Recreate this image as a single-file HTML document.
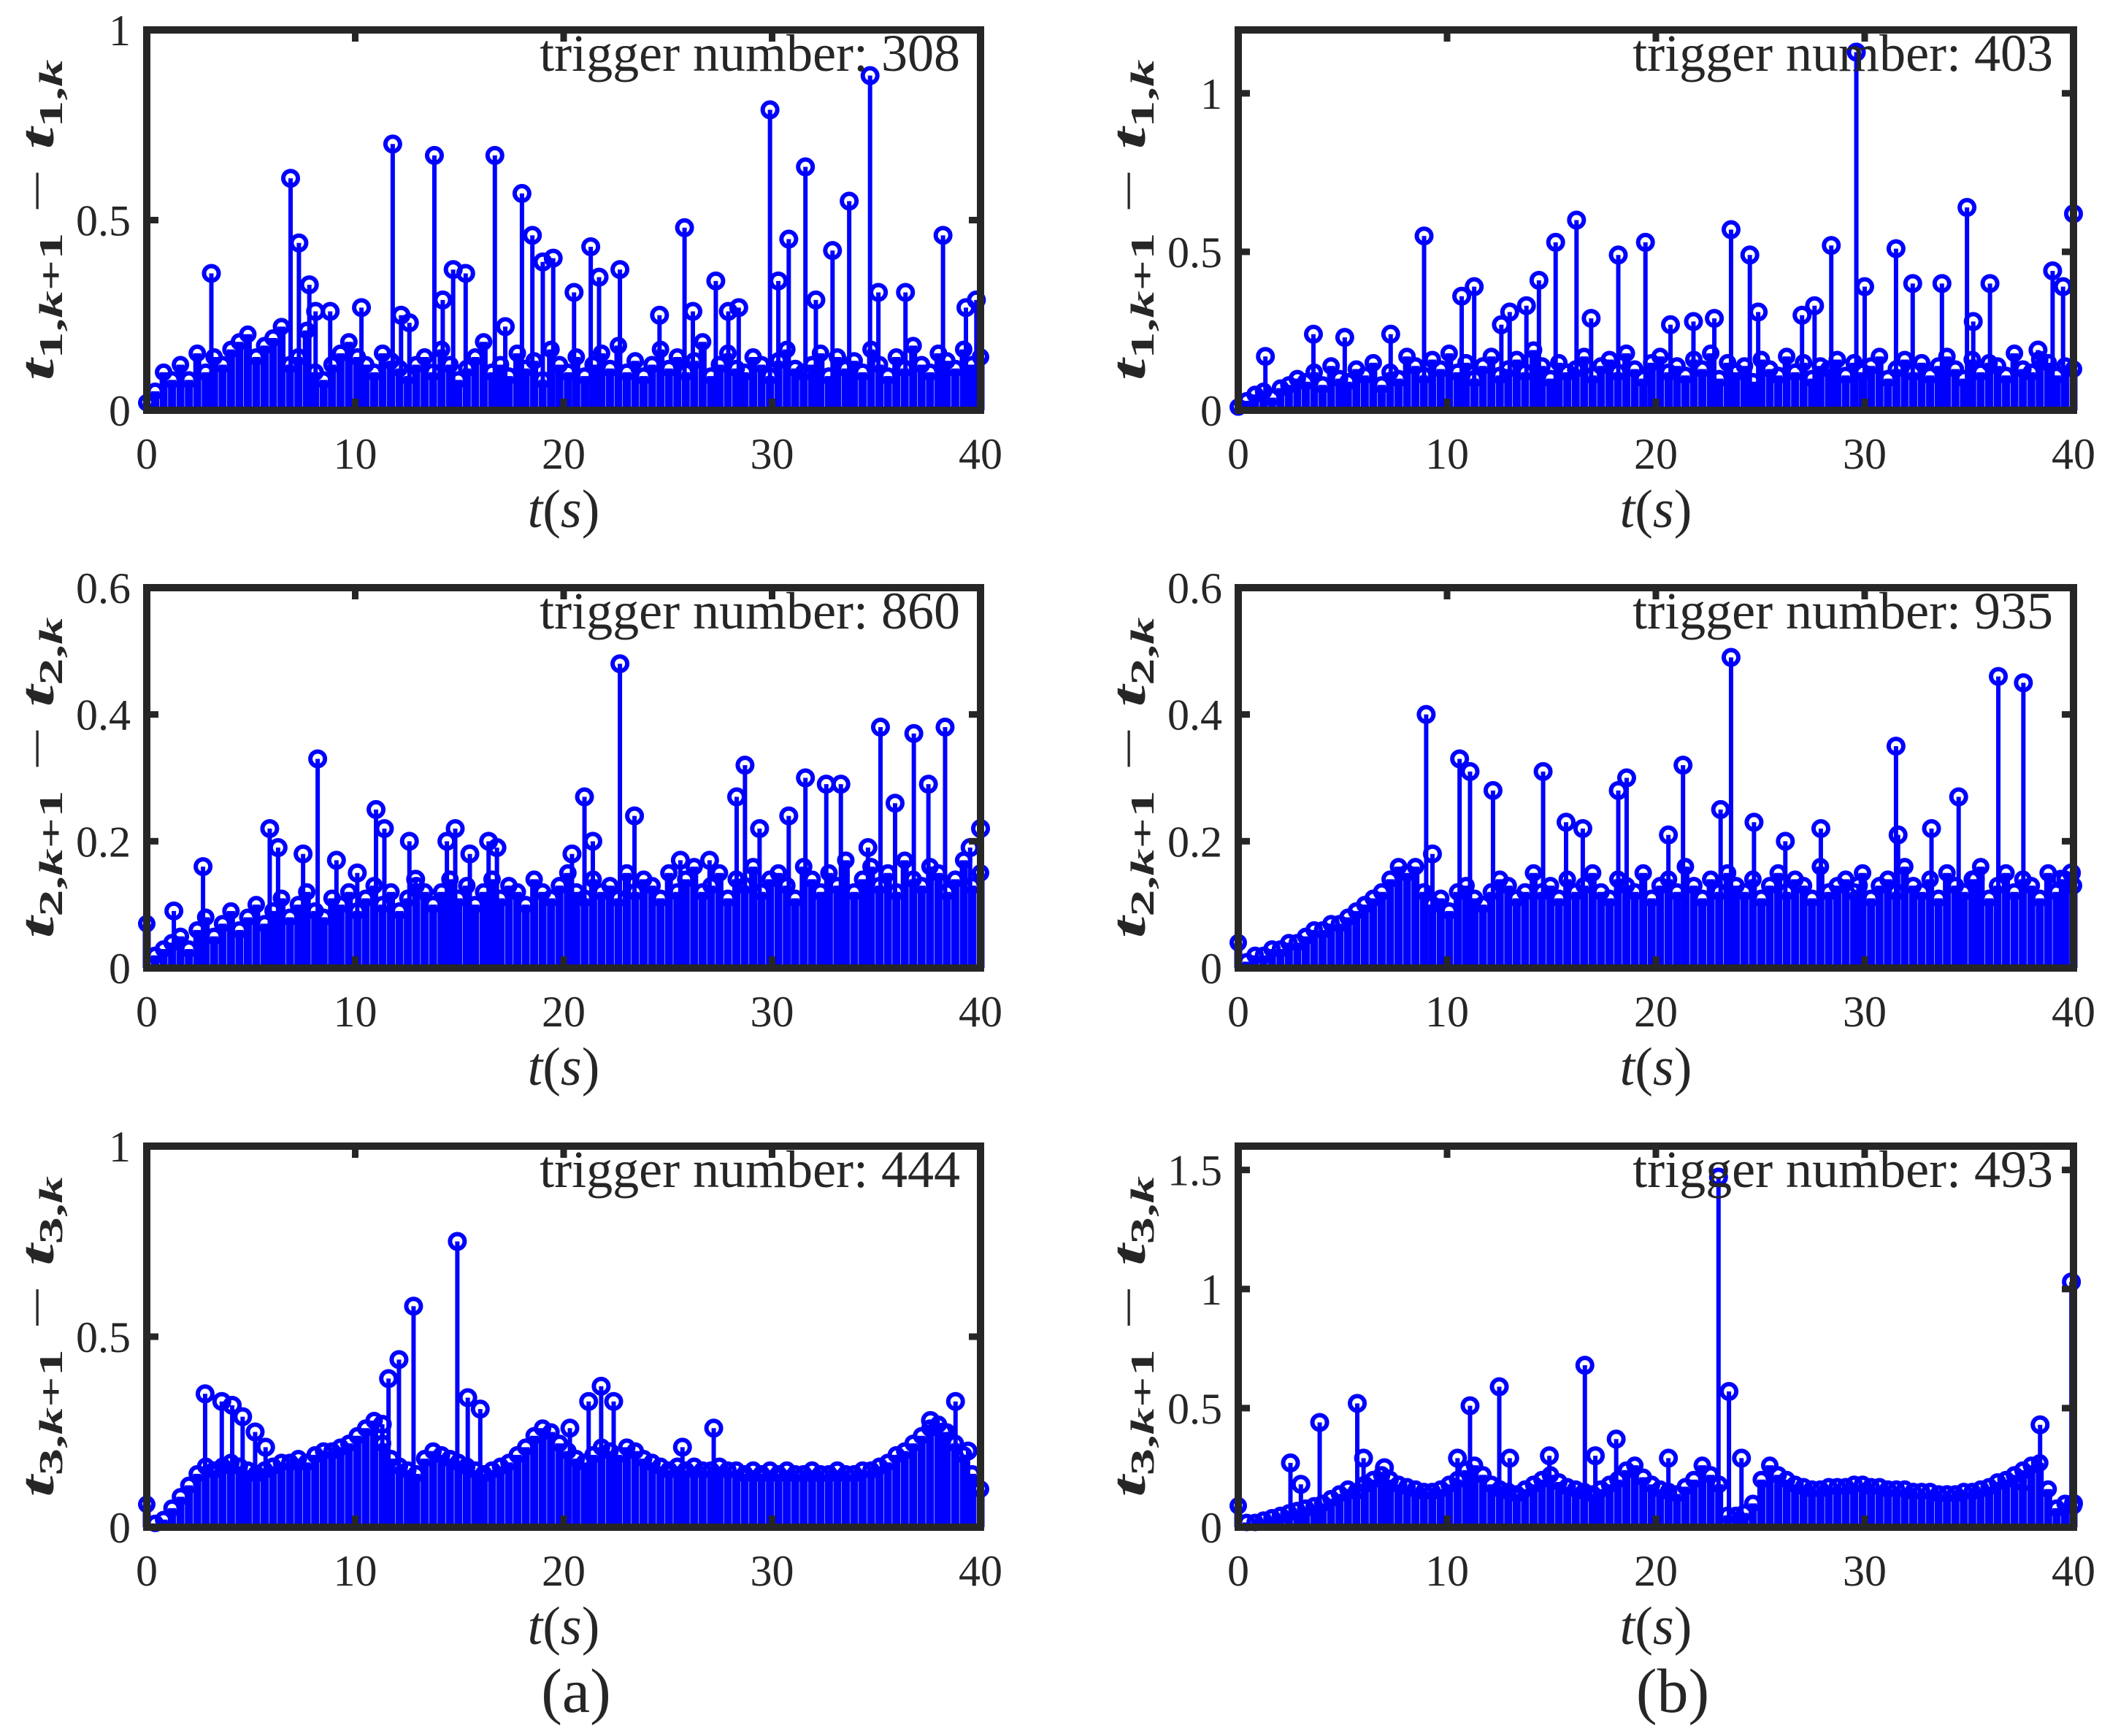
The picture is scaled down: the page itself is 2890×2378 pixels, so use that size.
<!DOCTYPE html>
<html><head><meta charset="utf-8"><style>
html,body{margin:0;padding:0;background:#fff}
svg{display:block}
text{font-family:"Liberation Serif",serif;fill:#262626}
</style></head><body>
<svg id="fig" width="2890" height="2378" viewBox="0 0 2890 2378" xmlns="http://www.w3.org/2000/svg">
<text x="789" y="2345" font-size="86" text-anchor="middle" fill="#000">(a)</text>
<text x="2291" y="2345" font-size="86" text-anchor="middle" fill="#000">(b)</text>
</svg>
<script>
// ---- data (t in seconds, value = inter-event time) ----
const a1PeakT=[3.1,6.9,7.3,7.8,8.1,8.8,10.3,11.8,12.2,12.6,13.8,14.2,14.7,15.3,16.7,17.2,18.0,18.5,19.0,19.5,20.5,21.3,21.7,22.7,24.6,25.8,26.2,27.3,27.9,28.4,29.9,30.3,30.8,31.6,32.1,32.9,33.7,34.7,35.1,36.4,38.2,39.3,39.8];
const a1PeakV=[.36,.61,.44,.33,.26,.26,.27,.70,.25,.23,.67,.29,.37,.36,.67,.22,.57,.46,.39,.40,.31,.43,.35,.37,.25,.48,.26,.34,.26,.27,.79,.34,.45,.64,.29,.42,.55,.88,.31,.31,.46,.27,.29];
const a1Base="02 05 10 08 12 08 15 10 14 12 16 18 20 14 17 19 22 12 14 21 10 08 12 15 18 14 12 10 15 13 11 09 12 14 10 16 12 08 11 14 18 10 12 09 15 11 13 08 16 12 10 14 09 12 15 11 17 10 13 09 12 16 11 14 10 13 18 09 12 15 11 10 14 12 09 13 16 11 10 12 15 09 14 11 13 10 16 12 09 14 11 17 12 10 15 13 11 16 12 14";

const b1PeakT=[1.3,3.6,5.1,7.3,8.9,10.7,11.3,12.6,13.0,13.8,14.4,15.2,16.2,16.9,18.2,19.5,20.7,21.8,22.8,23.6,24.5,24.9,27.0,27.6,28.4,29.6,30.0,31.5,32.3,33.7,34.9,35.2,36.0,38.3,39.0,39.5,40.0];
const b1PeakV=[.17,.24,.23,.24,.55,.36,.39,.27,.31,.33,.41,.53,.60,.29,.49,.53,.27,.28,.29,.57,.49,.31,.30,.33,.52,1.13,.39,.51,.40,.40,.64,.28,.40,.19,.44,.39,.62];
const b1Base="01 03 05 06 04 07 08 10 09 12 08 14 10 09 13 11 15 08 12 10 17 14 11 16 13 18 12 15 10 14 17 11 13 16 12 19 14 10 15 12 13 17 11 14 16 12 18 13 10 15 17 12 14 11 16 13 18 10 15 12 14 09 16 13 11 17 12 15 10 14 13 16 11 15 12 14 17 10 13 16 12 15 11 14 17 13 10 16 12 15 14 11 18 13 12 16 15 11 14 13";

const a2PeakT=[1.3,2.7,5.9,6.3,7.5,8.2,9.1,10.1,11.0,11.4,12.6,12.9,14.4,14.8,15.5,16.4,16.8,20.4,21.0,21.4,22.7,23.4,25.6,27.0,28.3,28.7,29.4,30.8,31.6,32.6,33.3,34.6,35.2,35.9,36.8,37.5,38.3,39.5,40.0];
const a2PeakV=[.09,.16,.22,.19,.18,.33,.17,.15,.25,.22,.20,.14,.20,.22,.18,.20,.19,.18,.27,.20,.48,.24,.17,.17,.27,.32,.22,.24,.30,.29,.29,.19,.38,.26,.37,.29,.38,.19,.22];
const a2Base="07 02 03 04 05 03 06 08 05 07 09 06 08 10 07 09 11 08 10 12 09 08 11 10 12 09 11 13 10 12 09 11 13 12 10 12 14 11 13 10 12 14 11 13 12 10 14 12 11 13 15 12 11 14 12 13 11 15 12 14 13 11 15 12 14 16 12 13 15 11 14 13 16 12 14 15 13 11 16 14 12 15 13 17 12 14 16 13 15 12 17 14 13 16 15 12 14 17 13 15";

const b2PeakT=[9.0,9.3,10.6,11.1,12.2,14.6,15.7,16.5,18.2,18.6,20.6,21.3,23.1,23.6,24.7,26.2,27.9,29.7,31.5,31.6,33.2,34.5,35.3,36.4,37.6,39.4,39.9];
const b2PeakV=[.40,.18,.33,.31,.28,.31,.23,.22,.28,.30,.21,.32,.25,.49,.23,.20,.22,.13,.35,.21,.22,.27,.14,.46,.45,.14,.15];
const b2Base="04 01 02 02 03 03 04 04 05 06 06 07 07 08 09 10 11 12 14 16 15 16 12 10 11 09 12 13 11 10 12 14 13 11 12 15 12 13 11 14 12 13 15 12 11 14 13 12 15 11 13 14 12 16 13 11 14 12 15 13 12 14 11 13 15 12 14 13 11 16 12 13 14 12 15 11 13 14 12 16 13 12 14 11 15 13 12 14 16 11 13 15 12 14 13 11 15 12 14 13";

const a3PeakT=[2.8,3.6,4.1,4.6,5.2,5.7,11.3,11.6,12.1,12.8,14.9,15.4,16.0,20.3,21.2,21.8,22.4,25.7,27.2,37.6,38.2,38.8,39.4];
const a3PeakV=[.35,.33,.32,.29,.25,.21,.27,.39,.44,.58,.75,.34,.31,.26,.33,.37,.33,.21,.26,.28,.25,.33,.20];
const a3Base="06 01 02 05 08 11 14 16 15 16 17 16 15 14 15 16 17 17 18 17 19 20 20 21 22 24 26 28 22 18 16 15 14 18 20 19 18 17 16 15 14 15 16 17 19 21 24 26 25 22 20 18 17 19 21 20 19 21 20 18 17 16 15 16 15 16 15 15 16 15 15 14 15 14 15 14 15 14 14 15 14 14 15 14 14 15 15 16 17 19 20 22 24 26 27 25 22 19 14 10";

const b3PeakT=[2.5,3.0,3.9,5.7,6.0,7.0,10.5,11.1,12.5,13.0,14.9,16.6,17.1,18.1,20.6,23.0,23.5,24.1,37.6,38.4,39.9,40.0];
const b3PeakV=[.27,.18,.44,.52,.29,.25,.29,.51,.59,.29,.30,.68,.30,.37,.29,1.47,.57,.29,.19,.43,1.03,.10];
const b3Base="09 02 02 03 04 05 06 07 08 09 10 12 14 16 15 18 20 22 20 18 17 16 15 15 16 18 20 24 26 22 18 16 15 14 16 18 20 22 19 17 16 15 14 16 18 20 24 26 21 18 16 15 14 17 20 26 22 18 05 05 06 10 20 26 22 20 18 17 16 16 17 17 17 18 18 17 17 16 16 16 15 15 15 14 14 14 15 15 16 17 19 20 22 24 26 27 16 08 10 09";

const xTicks=[0,10,20,30,40];
const xTickLabels=["0","10","20","30","40"];

// ---- layout ----
const NS="http://www.w3.org/2000/svg";
const svg=document.getElementById('fig');
function mk(tag,attrs,parent){const e=document.createElementNS(NS,tag);for(const k in attrs)e.setAttribute(k,attrs[k]);(parent||svg).appendChild(e);return e;}

const cols=[{L:201,R:1343},{L:1696,R:2840}];
const rows=[{T:41,B:562},{T:805,B:1326},{T:1570,B:2092}];

const panels=[
 {c:0,r:0,pt:a1PeakT,pv:a1PeakV,base:a1Base,ymax:1,yt:[0,.5,1],ytl:["0","0.5","1"],idx:"1",trig:"308",name:"a1"},
 {c:1,r:0,pt:b1PeakT,pv:b1PeakV,base:b1Base,ymax:1.2,yt:[0,.5,1],ytl:["0","0.5","1"],idx:"1",trig:"403",name:"b1"},
 {c:0,r:1,pt:a2PeakT,pv:a2PeakV,base:a2Base,ymax:.6,yt:[0,.2,.4,.6],ytl:["0","0.2","0.4","0.6"],idx:"2",trig:"860",name:"a2"},
 {c:1,r:1,pt:b2PeakT,pv:b2PeakV,base:b2Base,ymax:.6,yt:[0,.2,.4,.6],ytl:["0","0.2","0.4","0.6"],idx:"2",trig:"935",name:"b2"},
 {c:0,r:2,pt:a3PeakT,pv:a3PeakV,base:a3Base,ymax:1,yt:[0,.5,1],ytl:["0","0.5","1"],idx:"3",trig:"444",name:"a3"},
 {c:1,r:2,pt:b3PeakT,pv:b3PeakV,base:b3Base,ymax:1.6,yt:[0,.5,1,1.5],ytl:["0","0.5","1","1.5"],idx:"3",trig:"493",name:"b3"}
];

panels.forEach(p=>{
  const {L,R}=cols[p.c],{T,B}=rows[p.r];
  const xs=t=>L+(t/40)*(R-L);
  const ys=v=>B-(v/p.ymax)*(B-T);
  const g=mk('g',{});
  
  
  const sg=mk('g',{stroke:'#0000ff',fill:'none'},g);
  
  
  const bv=p.base.trim().split(/\s+/).map(s=>parseInt(s,10)/100);
  const n=bv.length;
  bv.forEach((v,i)=>{
    const x=xs(i*40/(n-1)),y=ys(v);
    const ln=mk('line',{x1:x,y1:B,x2:x,y2:y,'stroke-width':11},sg);
    
    
    const c=mk('circle',{cx:x,cy:y,r:9,'stroke-width':6},sg);
    
    
  });
  p.pt.forEach((t,i)=>{
    const x=xs(t),y=ys(p.pv[i]);
    const ln=mk('line',{x1:x,y1:B,x2:x,y2:y,'stroke-width':6},sg);
    
    
    const c=mk('circle',{cx:x,cy:y,r:10,'stroke-width':6},sg);
    
    
  });
  const fr=mk('rect',{x:L,y:T,width:R-L,height:B-T,fill:'none',stroke:'#262626','stroke-width':10},g);
  
  
  xTicks.forEach((t,i)=>{
    const x=xs(t);
    mk('line',{x1:x,y1:B,x2:x,y2:B-16,stroke:'#262626','stroke-width':9},g);
    mk('line',{x1:x,y1:T,x2:x,y2:T+16,stroke:'#262626','stroke-width':9},g);
    const tx=mk('text',{x:x,y:B+80,'font-size':60,'text-anchor':'middle'},g);
    tx.textContent=xTickLabels[i];
    
    
  });
  p.yt.forEach((v,i)=>{
    const y=ys(v);
    mk('line',{x1:L,y1:y,x2:L+16,y2:y,stroke:'#262626','stroke-width':9},g);
    mk('line',{x1:R,y1:y,x2:R-16,y2:y,stroke:'#262626','stroke-width':9},g);
    const tx=mk('text',{x:L-22,y:y+21,'font-size':60,'text-anchor':'end'},g);
    tx.textContent=p.ytl[i];
    
    
  });
  const xl=mk('text',{x:(L+R)/2,y:B+160,'font-size':74,'text-anchor':'middle','font-style':'italic'},g);
  xl.innerHTML='t<tspan font-style="normal">(</tspan>s<tspan font-style="normal">)</tspan>';
  
  
  const cy=(T+B)/2, cx=L-128;
  const yl=mk('text',{x:cx,y:cy,'font-size':66,'text-anchor':'middle','font-style':'italic','font-weight':'bold',textLength:440,lengthAdjust:'spacingAndGlyphs',transform:`rotate(-90 ${cx} ${cy})`},g);
  yl.innerHTML=`t<tspan font-size="46" dy="12" font-style="normal">${p.idx},</tspan><tspan font-size="46">k</tspan><tspan font-size="46" font-style="normal">+1</tspan><tspan dy="-12" font-weight="normal" font-style="normal"> − </tspan>t<tspan font-size="46" dy="12" font-style="normal">${p.idx},</tspan><tspan font-size="46">k</tspan>`;
  
  
  const tr=mk('text',{x:R-28,y:T+56,'font-size':72,'text-anchor':'end',fill:'#000'},g);
  tr.textContent='trigger number: '+p.trig;
  
  
});
</script>
</body></html>
